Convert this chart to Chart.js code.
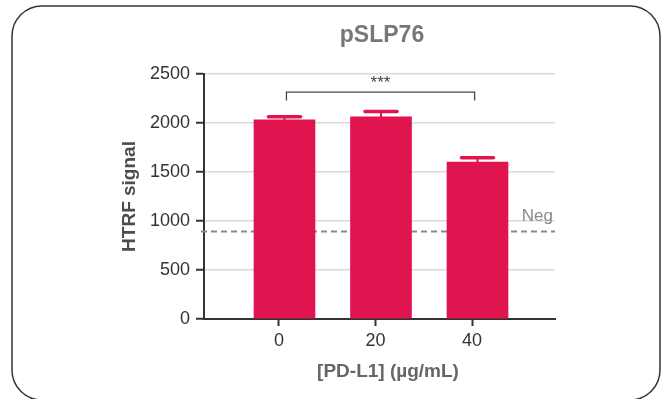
<!DOCTYPE html>
<html>
<head>
<meta charset="utf-8">
<script src="https://cdn.jsdelivr.net/npm/chart.js@4.4.0/dist/chart.umd.min.js"></script>
<style>
  html, body { margin: 0; padding: 0; background: #fff; }
  #wrap { width: 666px; height: 399px; }
</style>
</head>
<body>
<div id="wrap"><canvas id="bar-chart" width="666" height="399"></canvas></div>
<script>
// values
const categories = ["0", "20", "40"];
const signal = [2032, 2062, 1602];
const signalErr = [33, 55, 44];
const negControl = 892;
const yTicks = [0, 500, 1000, 1500, 2000, 2500];
const bracket = { from: 0.02, to: 1.97, top: 2316, leg: 2229, label: "***" };

const FONT = "'Liberation Sans', Arial, sans-serif";
const BAR = "#e0144f";
const TICK_SHIFT = 0.057; // tick marks sit a little left of the bar centres

window.onload = main;

function main(){
    const frame = {
        id: "frame",
        beforeDraw(chart) {
            const ctx = chart.ctx;
            ctx.save();
            ctx.fillStyle = "#fff";
            ctx.fillRect(0, 0, chart.width, chart.height);
            ctx.strokeStyle = "#333";
            ctx.lineWidth = 1.5;
            ctx.beginPath();
            ctx.roundRect(12, 6, 648, 394, 30);
            ctx.stroke();
            ctx.restore();
        }
    };

    const negLine = {
        id: "negLine",
        beforeDatasetsDraw(chart) {
            const ctx = chart.ctx, y = chart.scales.y.getPixelForValue(negControl);
            const a = chart.chartArea;
            ctx.save();
            ctx.strokeStyle = "#8a8a8a";
            ctx.lineWidth = 2;
            ctx.setLineDash([6, 4]);
            ctx.beginPath();
            ctx.moveTo(a.left - 3, y);
            ctx.lineTo(a.right, y);
            ctx.stroke();
            ctx.setLineDash([]);
            ctx.fillStyle = "#8a8a8a";
            ctx.font = "17px " + FONT;
            ctx.textAlign = "right";
            ctx.textBaseline = "alphabetic";
            ctx.fillText("Neg", a.right - 2, y - 11);
            ctx.restore();
        }
    };

    const extras = {
        id: "extras",
        afterDatasetsDraw(chart) {
            const ctx = chart.ctx, xs = chart.scales.x, ys = chart.scales.y;
            ctx.save();
            // error bars
            ctx.strokeStyle = BAR;
            ctx.lineCap = "round";
            signal.forEach((v, i) => {
                const x = xs.getPixelForValue(i);
                const yTop = ys.getPixelForValue(v + signalErr[i]);
                const yBar = ys.getPixelForValue(v);
                ctx.lineWidth = 2;
                ctx.beginPath();
                ctx.moveTo(x, yBar);
                ctx.lineTo(x, yTop);
                ctx.stroke();
                ctx.lineWidth = 3.5;
                ctx.beginPath();
                ctx.moveTo(x - 16, yTop);
                ctx.lineTo(x + 16, yTop);
                ctx.stroke();
            });
            // significance bracket
            const x1 = xs.getPixelForValue(bracket.from), x2 = xs.getPixelForValue(bracket.to);
            const yb = ys.getPixelForValue(bracket.top), yl = ys.getPixelForValue(bracket.leg);
            ctx.strokeStyle = "#444";
            ctx.lineCap = "butt";
            ctx.lineWidth = 1.3;
            ctx.beginPath();
            ctx.moveTo(x1, yl);
            ctx.lineTo(x1, yb);
            ctx.lineTo(x2, yb);
            ctx.lineTo(x2, yl);
            ctx.stroke();
            ctx.fillStyle = "#444";
            ctx.font = "17px " + FONT;
            ctx.textAlign = "center";
            ctx.textBaseline = "alphabetic";
            ctx.fillText(bracket.label, (x1 + x2) / 2, yb - 4);
            ctx.restore();
        }
    };

    const titles = {
        id: "titles",
        afterDraw(chart) {
            const ctx = chart.ctx, a = chart.chartArea;
            ctx.save();
            ctx.textAlign = "center";
            ctx.textBaseline = "alphabetic";
            ctx.fillStyle = "#777";
            ctx.font = "bold 23px " + FONT;
            ctx.fillText("pSLP76", 382, 42);
            ctx.fillStyle = "#666";
            ctx.font = "bold 19px " + FONT;
            ctx.fillText("[PD-L1] (\u00b5g/mL)", 388, 377);
            ctx.translate(135, (a.top + a.bottom) / 2);
            ctx.rotate(-Math.PI / 2);
            ctx.fillStyle = "#4d4d4d";
            ctx.font = "bold 19px " + FONT;
            ctx.fillText("HTRF signal", 0, 0);
            ctx.restore();
        }
    };

    new Chart(document.getElementById("bar-chart"), {
        type: "bar",
        data: {
            datasets: [
                {
                    label: "HTRF signal",
                    backgroundColor: BAR,
                    borderWidth: 0,
                    barThickness: 61,
                    data: signal.map((v, i) => ({ x: i, y: v }))
                }
            ]
        },
        options: {
            responsive: false,
            animation: false,
            layout: { padding: { top: 74, right: 111, left: 0, bottom: 0 } },
            plugins: {
                legend: { display: false },
                tooltip: { enabled: false },
                title: { display: false }
            },
            scales: {
                x: {
                    type: "linear",
                    min: -0.834,
                    max: 2.803,
                    offset: false,
                    afterFit: s => { s.height = 80; },
                    afterBuildTicks: s => { s.ticks = categories.map((c, i) => ({ value: i - TICK_SHIFT })); },
                    grid: { display: true, offset: false, drawOnChartArea: false, tickLength: 7, tickColor: "#333", tickWidth: 2 },
                    border: { color: "#333", width: 2 },
                    ticks: {
                        color: "#333",
                        font: { family: FONT, size: 18 },
                        padding: 4,
                        maxRotation: 0,
                        callback: v => categories[Math.round(v)]
                    }
                },
                y: {
                    min: 0,
                    max: 2500,
                    afterFit: s => { s.width = 204; },
                    afterBuildTicks: s => { s.ticks = yTicks.map(v => ({ value: v })); },
                    grid: { color: "#dadada", lineWidth: 1.5, tickLength: 8, tickColor: "#333", tickWidth: 2 },
                    border: { color: "#333", width: 2 },
                    ticks: {
                        color: "#333",
                        font: { family: FONT, size: 18 },
                        padding: 6,
                        callback: v => String(v)
                    }
                }
            }
        },
        plugins: [frame, negLine, extras, titles]
    });
}
</script>
</body>
</html>
